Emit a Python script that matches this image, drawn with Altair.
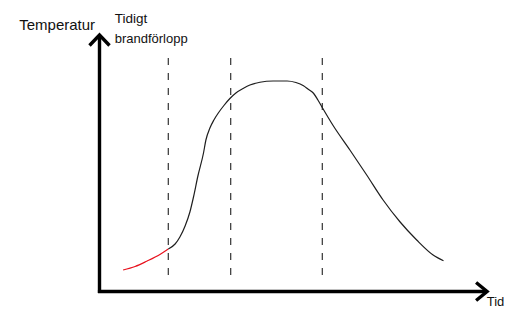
import altair as alt
import pandas as pd

# Curve values (time units, temperature units)
early_t = [5.9, 8.9, 11.8, 15.1, 17.2]
early_T = [8.6, 10.0, 12.1, 14.8, 17.0]

main_t = [17.2, 18.9, 20.1, 21.4, 22.6, 23.5, 24.6, 26.0, 26.6, 27.6, 28.6, 29.7,
          31.1, 32.6, 34.1, 36.0, 37.6, 40.1, 43.4, 46.9, 49.1, 51.0, 52.1, 53.5,
          54.6, 55.8, 58.4, 62.6, 66.8, 70.9, 75.1, 79.3, 83.4, 86.0]
main_T = [17.0, 19.0, 21.8, 26.2, 31.8, 37.8, 46.2, 55.4, 60.6, 65.4, 68.6, 71.4,
          74.4, 77.2, 79.4, 81.3, 82.6, 83.7, 84.2, 84.2, 83.6, 82.3, 81.0, 79.3,
          76.6, 73.3, 66.4, 56.6, 46.6, 36.6, 27.9, 20.6, 14.6, 12.3]

# Phase boundaries (time units)
phase_t = [17.2, 32.8, 55.7]
phase_top = 93.4
phase_bottom = 5.4

# Axes extents
x_axis_t = [-0.4, 96.9]
y_axis_T = [-0.6, 102.6]

# Labels
labels_text = ["Temperatur", "Tidigt", "brandförlopp", "Tid"]
labels_t = [-1.1, 3.8, 3.8, 101.2]
labels_T = [104.6, 107.3, 99.3, -5.8]
labels_align = ["right", "left", "left", "right"]
labels_size = [15, 13.5, 13, 13]

xs = alt.Scale(domain=[0, 100], range=[91.5, 491.5])
ys = alt.Scale(domain=[0, 100], range=[283.5, 33.5])

curve_df = pd.DataFrame(
    {"t": early_t + main_t,
     "T": early_T + main_T,
     "fas": ["tidig"] * len(early_t) + ["brand"] * len(main_t)}
)

curve = alt.Chart(curve_df).mark_line(interpolate="monotone", strokeWidth=1.2).encode(
    x=alt.X("t:Q", scale=xs, axis=None),
    y=alt.Y("T:Q", scale=ys, axis=None),
    color=alt.Color("fas:N", scale=alt.Scale(domain=["tidig", "brand"], range=["#e8101c", "#1e1e1e"]), legend=None),
    detail="fas:N",
)

phase_df = pd.DataFrame({"t": phase_t, "top": [phase_top] * 3, "bottom": [phase_bottom] * 3})
phases = alt.Chart(phase_df).mark_rule(color="#333333", strokeWidth=1.2, strokeDash=[7, 8]).encode(
    x=alt.X("t:Q", scale=xs, axis=None),
    y=alt.Y("top:Q", scale=ys, axis=None),
    y2="bottom:Q",
)

xaxis_df = pd.DataFrame({"t0": [x_axis_t[0]], "t1": [x_axis_t[1]], "T": [0]})
xaxis = alt.Chart(xaxis_df).mark_rule(color="black", strokeWidth=3.4).encode(
    x=alt.X("t0:Q", scale=xs, axis=None), x2="t1:Q",
    y=alt.Y("T:Q", scale=ys, axis=None),
)
yaxis_df = pd.DataFrame({"t": [0], "T0": [y_axis_T[0]], "T1": [y_axis_T[1]]})
yaxis = alt.Chart(yaxis_df).mark_rule(color="black", strokeWidth=3.4).encode(
    x=alt.X("t:Q", scale=xs, axis=None),
    y=alt.Y("T0:Q", scale=ys, axis=None), y2="T1:Q",
)

xhead = alt.Chart(pd.DataFrame({"t": [x_axis_t[1]], "T": [0]})).mark_point(
    shape="M-1.1,-0.9L0,0L-1.1,0.9", size=400, filled=False, color="black",
    strokeWidth=3.4, strokeJoin="miter", opacity=1,
).encode(x=alt.X("t:Q", scale=xs, axis=None), y=alt.Y("T:Q", scale=ys, axis=None))

yhead = alt.Chart(pd.DataFrame({"t": [0], "T": [y_axis_T[1]]})).mark_point(
    shape="M-1,1.05L0,0L1,1.05", size=400, filled=False, color="black",
    strokeWidth=3.4, strokeJoin="miter", opacity=1,
).encode(x=alt.X("t:Q", scale=xs, axis=None), y=alt.Y("T:Q", scale=ys, axis=None))

label_layers = []
for txt, tt, TT, al, sz in zip(labels_text, labels_t, labels_T, labels_align, labels_size):
    label_layers.append(
        alt.Chart(pd.DataFrame({"t": [tt], "T": [TT], "txt": [txt]})).mark_text(
            align=al, baseline="alphabetic", font="Liberation Sans", fontSize=sz, color="#111111",
        ).encode(x=alt.X("t:Q", scale=xs, axis=None), y=alt.Y("T:Q", scale=ys, axis=None), text="txt:N")
    )

chart = alt.layer(phases, curve, xaxis, yaxis, xhead, yhead, *label_layers).properties(
    width=500, height=300, padding=0, autosize=alt.AutoSizeParams(type="none"),
    background="white",
).configure_view(stroke=None)

chart.save("out.html", embed_options={"renderer": "svg", "actions": False})
